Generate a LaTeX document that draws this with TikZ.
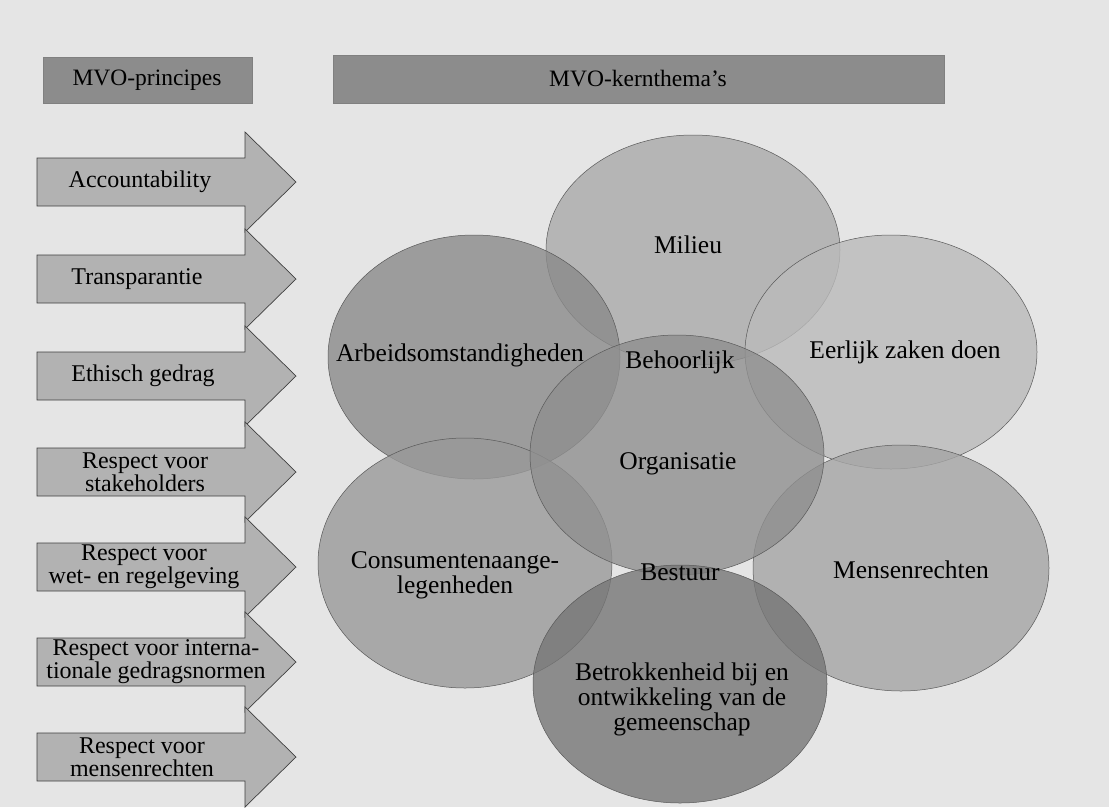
\documentclass[tikz,border=0pt]{standalone}
\usepackage{fontspec}
\setmainfont{Liberation Serif}
\definecolor{bggray}{gray}{0.898}
\definecolor{hdrgray}{gray}{0.55}
\definecolor{arrgray}{gray}{0.70}
\definecolor{cmil}{gray}{0.667}
\definecolor{carb}{gray}{0.541}
\definecolor{ceer}{gray}{0.729}
\definecolor{corg}{gray}{0.561}
\definecolor{ccon}{gray}{0.600}
\definecolor{cmen}{gray}{0.647}
\definecolor{cbet}{gray}{0.463}
\begin{document}
\begin{tikzpicture}[x=1pt,y=-1pt,
  hdr/.style={fill=hdrgray, draw=black!50, line width=0.5pt},
  arrowbox/.style={fill=arrgray, draw=black!75, line width=0.7pt},
  lbl/.style={font=\fontsize{24}{23}\selectfont, align=center, inner sep=0pt, text=black},
  clbl/.style={font=\fontsize{25.5}{25}\selectfont, align=center, inner sep=0pt, text=black},
  hlbl/.style={font=\fontsize{23.5}{24}\selectfont, align=center, inner sep=0pt, text=black},
  circ/.style={draw=black!65, line width=0.5pt, fill opacity=0.8}
]
% background / bounding box
\fill[bggray] (0,0) rectangle (1109,807);
\useasboundingbox (0,0) rectangle (1109,807);

% headers
\draw[hdr] (43,57) rectangle (252,103);
\node[hlbl] (hprin) at (147,80) {MVO-principes};
\draw[hdr] (333,55) rectangle (944,103);
\node[hlbl] (hkern) at (638,79) {MVO-kernthema's};

% arrows
\foreach \i/\c in {1/182,2/279,3/376,4/472,5/567,6/662,7/757}{
  \draw[arrowbox] (37,\c-24) -- (245,\c-24) -- (245,\c-50) -- (296,\c)
     -- (245,\c+50) -- (245,\c+24) -- (37,\c+24) -- cycle;
}
\node[lbl] (p1) at (140,182) {Accountability};
\node[lbl] (p2) at (137,279) {Transparantie};
\node[lbl] (p3) at (143,376) {Ethisch gedrag};
\node[lbl] (p4) at (145,472) {Respect voor\\stakeholders};
\node[lbl] (p5) at (144,567) {Respect voor\\wet- en regelgeving};
\node[lbl] (p6) at (156,662) {Respect voor interna-\\tionale gedragsnormen};
\node[lbl] (p7) at (142,757) {Respect voor\\mensenrechten};

% theme ellipses
\draw[circ, fill=cmil] (693,250) ellipse [x radius=147pt, y radius=115pt];
\draw[circ, fill=ceer] (891,352) ellipse [x radius=146pt, y radius=117pt];
\draw[circ, fill=carb] (474,357) ellipse [x radius=146pt, y radius=122pt];
\draw[circ, fill=ccon] (465,563) ellipse [x radius=147pt, y radius=125pt];
\draw[circ, fill=cmen] (901,568) ellipse [x radius=148pt, y radius=123pt];
\draw[circ, fill=corg] (677,455) ellipse [x radius=147pt, y radius=120pt];
\draw[circ, fill=cbet] (680,684) ellipse [x radius=147pt, y radius=119pt];

% theme labels
\node[clbl] (milieu) at (688,245) {Milieu};
\node[clbl] (arbeid) at (460,355) {Arbeidsomstandigheden};
\node[clbl] (behoor) at (680,362) {Behoorlijk};
\node[clbl] (eerlijk) at (905,352) {Eerlijk zaken doen};
\node[clbl] (organ) at (678,464) {Organisatie};
\node[clbl] (bestuur) at (680,572) {Bestuur};
\node[clbl] (consum) at (455,575) {Consumentenaange-\\legenheden};
\node[clbl] (mensen) at (911,570) {Mensenrechten};
\node[clbl] (betrok) at (682,699) {Betrokkenheid bij en\\ontwikkeling van de\\gemeenschap};
\end{tikzpicture}
\end{document}
